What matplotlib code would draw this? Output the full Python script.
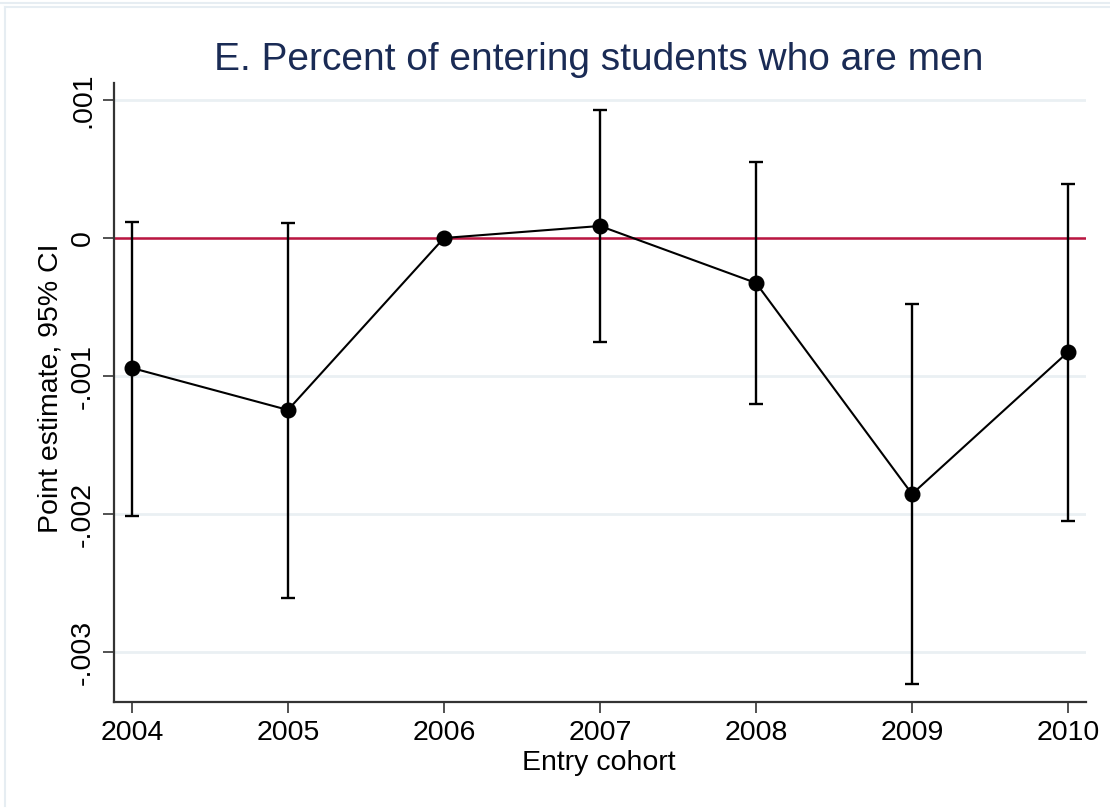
import matplotlib
matplotlib.use("Agg")
import matplotlib.pyplot as plt
from matplotlib.lines import Line2D

plt.rcParams['font.family'] = ['Liberation Sans', 'DejaVu Sans']

# Event-study estimates by entry cohort (2006 is the reference year)
cohorts = [2004, 2005, 2006, 2007, 2008, 2009, 2010]
estimate = [-0.000942, -0.001246, 0.0, 0.000087, -0.000326, -0.001855, -0.000826]
ci_low = [-0.002014, -0.002609, None, -0.000754, -0.001203, -0.003232, -0.002051]
ci_high = [0.000116, 0.000109, None, 0.000928, 0.000551, -0.000478, 0.000391]
y_ticks = [0.001, 0.0, -0.001, -0.002, -0.003]
y_tick_labels = ['.001', '0', '-.001', '-.002', '-.003']

W, H = 1110, 808
fig = plt.figure(figsize=(W / 100, H / 100), dpi=100)
fig.patch.set_facecolor('white')

# outer panel frame
frame_col = '#e6edf2'
fig.add_artist(Line2D([0, 1], [1 - 2.5 / H, 1 - 2.5 / H], color=frame_col, lw=1.5, transform=fig.transFigure))
fig.add_artist(Line2D([5 / W, 1], [1 - 6.5 / H, 1 - 6.5 / H], color=frame_col, lw=1.5, transform=fig.transFigure))
fig.add_artist(Line2D([5 / W, 5 / W], [1 - 6.5 / H, 1 - 806 / H], color=frame_col, lw=1.5, transform=fig.transFigure))

left, right, top, bottom = 114, 1086, 83, 702
ax = fig.add_axes([left / W, 1 - bottom / H, (right - left) / W, (bottom - top) / H])
ax.set_facecolor('white')

ax.set_xlim(2003.885, 2010.115)
ax.set_ylim(-0.003362, 0.001123)

# horizontal grid
for t in y_ticks:
    ax.axhline(t, color='#eaf0f3', lw=2.0, zorder=0)

# reference line at zero
ax.axhline(0, color='#bb1540', lw=1.8, zorder=1)

# confidence intervals
ci_x = [c for c, lo in zip(cohorts, ci_low) if lo is not None]
ci_lo = [lo for lo in ci_low if lo is not None]
ci_hi = [hi for hi in ci_high if hi is not None]
ci_mid = [e for e, lo in zip(estimate, ci_low) if lo is not None]
ax.errorbar(ci_x, ci_mid,
            yerr=[[m - lo for m, lo in zip(ci_mid, ci_lo)], [hi - m for m, hi in zip(ci_mid, ci_hi)]],
            fmt='none', ecolor='black', elinewidth=1.7, capsize=5, capthick=1.7, zorder=2)

# point estimates
ax.plot(cohorts, estimate, color='black', lw=1.5, marker='o', markersize=10.5,
        markerfacecolor='black', markeredgecolor='black', zorder=3)

for s in ['top', 'right']:
    ax.spines[s].set_visible(False)
for s in ['left', 'bottom']:
    ax.spines[s].set_color('#333333')
    ax.spines[s].set_linewidth(1.6)

ax.set_xticks(cohorts)
ax.set_xticklabels([str(c) for c in cohorts], fontsize=20.5)
ax.set_yticks(y_ticks)
ax.set_yticklabels(y_tick_labels, fontsize=20.5, rotation=90, va='center')
ax.tick_params(axis='both', length=8, width=1.2, color='#333333', pad=5)

fig.text(599 / W, 1 - 763 / H, 'Entry cohort', fontsize=20.5, ha='center', va='center')
fig.text(51 / W, 1 - 388 / H, 'Point estimate, 95% CI', fontsize=20.5, rotation=90,
         ha='center', va='center')
fig.text(599 / W, 1 - 70 / H, 'E. Percent of entering students who are men', fontsize=28,
         color='#1a2b55', ha='center', va='baseline')

fig.savefig('out.png', dpi=100, facecolor='white')
